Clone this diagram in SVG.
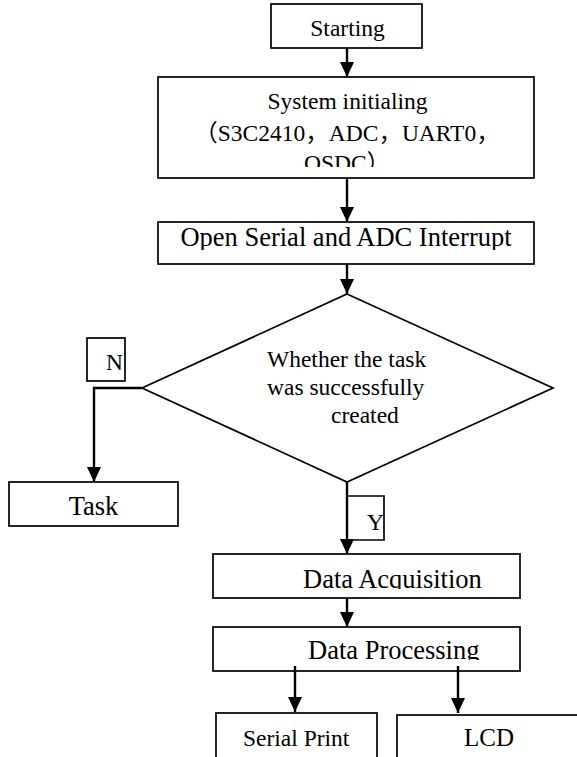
<svg xmlns="http://www.w3.org/2000/svg" width="577" height="757" viewBox="0 0 577 757">
<style>
.box{fill:#fff;stroke:#000;stroke-width:1.7}
.lbl{fill:none;stroke:#000;stroke-width:1.7}
.t{font-family:"Liberation Serif","Noto Sans CJK SC",serif;fill:#000}
.s{font-size:23.5px}
.b{font-size:26.5px}
.c{stroke:#000;stroke-width:2.4;fill:none}
</style>
<defs>
<marker id="ah" markerUnits="userSpaceOnUse" viewBox="0 0 15 14" markerWidth="15" markerHeight="14" refX="15" refY="7" orient="auto">
<path d="M0,0 L15,7 L0,14 z" fill="#000"/>
</marker>
<clipPath id="cSys"><rect x="158" y="77" width="376" height="90"/></clipPath>
<clipPath id="cOpen"><rect x="158" y="222" width="376" height="28"/></clipPath>
<clipPath id="cAcq"><rect x="213" y="554" width="307" height="35"/></clipPath>
<clipPath id="cProc"><rect x="213" y="627" width="307" height="33"/></clipPath>
</defs>

<g id="n-start">
<rect class="box" x="271" y="4" width="151" height="44"/>
<text class="t s" x="347.5" y="36" text-anchor="middle">Starting</text>
</g>

<g id="n-init">
<rect class="box" x="158" y="77" width="376" height="101"/>
<g clip-path="url(#cSys)">
<text class="t s" x="347.5" y="109" text-anchor="middle">System initialing</text>
<text class="t s" x="347" y="141" text-anchor="middle">（S3C2410，ADC，UART0，</text>
<text class="t s" x="347" y="171" text-anchor="middle">OSDC）</text>
</g>
</g>

<g id="n-open">
<rect class="box" x="158" y="222" width="376" height="42"/>
<text class="t b" x="346" y="246" text-anchor="middle" clip-path="url(#cOpen)">Open Serial and ADC Interrupt</text>
</g>

<g id="n-decision">
<polygon class="box" points="347,294 553,388 347,482 142,388"/>
<text class="t s" x="267" y="367">Whether the task</text>
<text class="t s" x="267" y="395">was successfully</text>
<text class="t s" x="331" y="423">created</text>
</g>

<g id="n-task">
<rect class="box" x="9" y="482" width="169" height="44"/>
<text class="t b" x="93.5" y="515" text-anchor="middle">Task</text>
</g>

<g id="n-acq">
<rect class="box" x="213" y="554" width="307" height="44"/>
<text class="t b" x="303" y="588" clip-path="url(#cAcq)">Data Acquisition</text>
</g>

<g id="n-proc">
<rect class="box" x="213" y="627" width="307" height="44"/>
<text class="t b" x="308" y="659" clip-path="url(#cProc)">Data Processing</text>
</g>

<g id="n-serial">
<rect class="box" x="216" y="713" width="161" height="60"/>
<text class="t s" x="243" y="746">Serial Print</text>
</g>

<g id="n-lcd">
<rect class="box" x="397" y="715" width="200" height="60"/>
<text class="t" style="font-size:25px" x="464" y="746">LCD</text>
</g>

<g id="connectors">
<line class="c" x1="347" y1="48" x2="347" y2="77" marker-end="url(#ah)"/>
<line class="c" x1="347" y1="178" x2="347" y2="222" marker-end="url(#ah)"/>
<line class="c" x1="347" y1="264" x2="347" y2="294" marker-end="url(#ah)"/>
<polyline class="c" points="142,388 94,388 94,482" marker-end="url(#ah)"/>
<line class="c" x1="347" y1="482" x2="347" y2="554" marker-end="url(#ah)"/>
<line class="c" x1="347" y1="598" x2="347" y2="627" marker-end="url(#ah)"/>
<line class="c" x1="295" y1="666" x2="295" y2="712" marker-end="url(#ah)"/>
<line class="c" x1="458" y1="666" x2="458" y2="713" marker-end="url(#ah)"/>
</g>

<g id="label-n">
<rect class="lbl" x="87" y="338" width="38" height="43"/>
<text class="t s" x="106" y="370">N</text>
</g>

<g id="label-y">
<polyline class="lbl" points="347,496 384,496 384,540 347,540"/>
<text class="t s" x="367" y="530">Y</text>
</g>
</svg>
